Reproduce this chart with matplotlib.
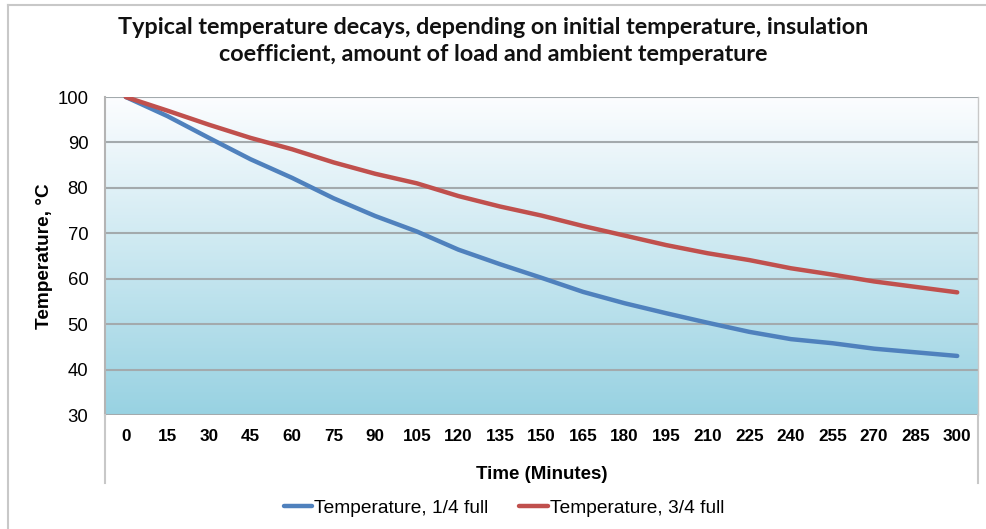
import numpy as np
import matplotlib
matplotlib.use("Agg")
import matplotlib.pyplot as plt
from matplotlib.lines import Line2D

minutes = [0, 15, 30, 45, 60, 75, 90, 105, 120, 135, 150, 165, 180, 195, 210, 225, 240, 255, 270, 285, 300]
temp_quarter = [100, 95.8, 91.0, 86.3, 82.2, 77.7, 73.8, 70.4, 66.4, 63.2, 60.2, 57.1, 54.6, 52.4, 50.3, 48.3, 46.7, 45.8, 44.6, 43.8, 43.0]
temp_three_quarter = [100, 97.0, 93.9, 91.0, 88.5, 85.6, 83.1, 81.0, 78.2, 75.9, 73.9, 71.6, 69.5, 67.4, 65.6, 64.1, 62.3, 60.9, 59.4, 58.2, 57.0]
yticks = [30, 40, 50, 60, 70, 80, 90, 100]

W, H = 986, 529
fig = plt.figure(figsize=(W / 100, H / 100), dpi=100)
fig.patch.set_facecolor("white")

L, R, T, B = 105, 978, 97, 415
ax = fig.add_axes([L / W, 1 - B / H, (R - L) / W, (B - T) / H])

x = np.arange(len(minutes))
ax.set_xlim(-0.5, len(minutes) - 0.5)
ax.set_ylim(30, 100)

# gradient background (white at top, light cyan at bottom)
grad = np.linspace(0, 1, 256).reshape(-1, 1)
top_c = np.array([252, 253, 255]) / 255
bot_c = np.array([152, 210, 226]) / 255
img = top_c[None, None, :] * (1 - grad[:, :, None]) + bot_c[None, None, :] * grad[:, :, None]
ax.imshow(img, extent=[-0.5, len(minutes) - 0.5, 30, 100], origin="upper",
          aspect="auto", zorder=0)

for v in yticks:
    ax.axhline(v, color="#a3aaad", lw=1.5, zorder=1)

ax.plot(x, temp_quarter, color="#4f81bd", lw=3.2, solid_capstyle="round", zorder=3,
        label="Temperature, 1/4 full")
ax.plot(x, temp_three_quarter, color="#c0504d", lw=3.2, solid_capstyle="round", zorder=3,
        label="Temperature, 3/4 full")

for s in ["top", "bottom", "right"]:
    ax.spines[s].set_visible(False)
ax.spines["left"].set_color("#b4b4b4")
ax.spines["left"].set_linewidth(1.5)

ax.set_yticks(yticks)
ax.set_yticklabels([str(v) for v in yticks], fontsize=13.3, family="Liberation Sans")
ax.set_xticks(x)
ax.set_xticklabels([str(m) for m in minutes], fontsize=12.3, family="Liberation Sans",
                   fontweight="bold")
ax.tick_params(axis="both", length=0)
ax.tick_params(axis="x", pad=10)
ax.tick_params(axis="y", pad=12)

ax.set_ylabel("Temperature, °C", fontsize=13.7, family="Liberation Sans", fontweight="bold",
              labelpad=3)
ax.set_xlabel("Time (Minutes)", fontsize=13.5, family="Liberation Sans", fontweight="bold",
              labelpad=16)

# extended plot-area side lines
for xp in (L, R):
    fig.add_artist(Line2D([xp / W, xp / W], [1 - B / H, 1 - 483 / H],
                          color="#c8c8c8", lw=1.5))
fig.add_artist(Line2D([R / W, R / W], [1 - T / H, 1 - B / H], color="#c8c8c8", lw=1.0))
# outer chart frame
fig.add_artist(Line2D([8 / W, 8 / W], [0, 1 - 5 / H], color="#c8c8c8", lw=1.5))
fig.add_artist(Line2D([8 / W, 1], [1 - 5 / H, 1 - 5 / H], color="#c8c8c8", lw=1.5))

fig.text(0.5, 1 - 41 / H,
         "Typical temperature decays, depending on initial temperature, insulation\n"
         "coefficient, amount of load and ambient temperature",
         ha="center", va="center", fontsize=16.8, family="Lato", fontweight="bold",
         linespacing=1.3, color="#111111")

leg = fig.legend(loc="center", bbox_to_anchor=(504 / W, 1 - 508 / H), ncol=2,
                 frameon=False, prop={"family": "Liberation Sans", "size": 13.8},
                 handlelength=1.5, handletextpad=0.1, columnspacing=1.6)

fig.savefig("out.png", dpi=100)
